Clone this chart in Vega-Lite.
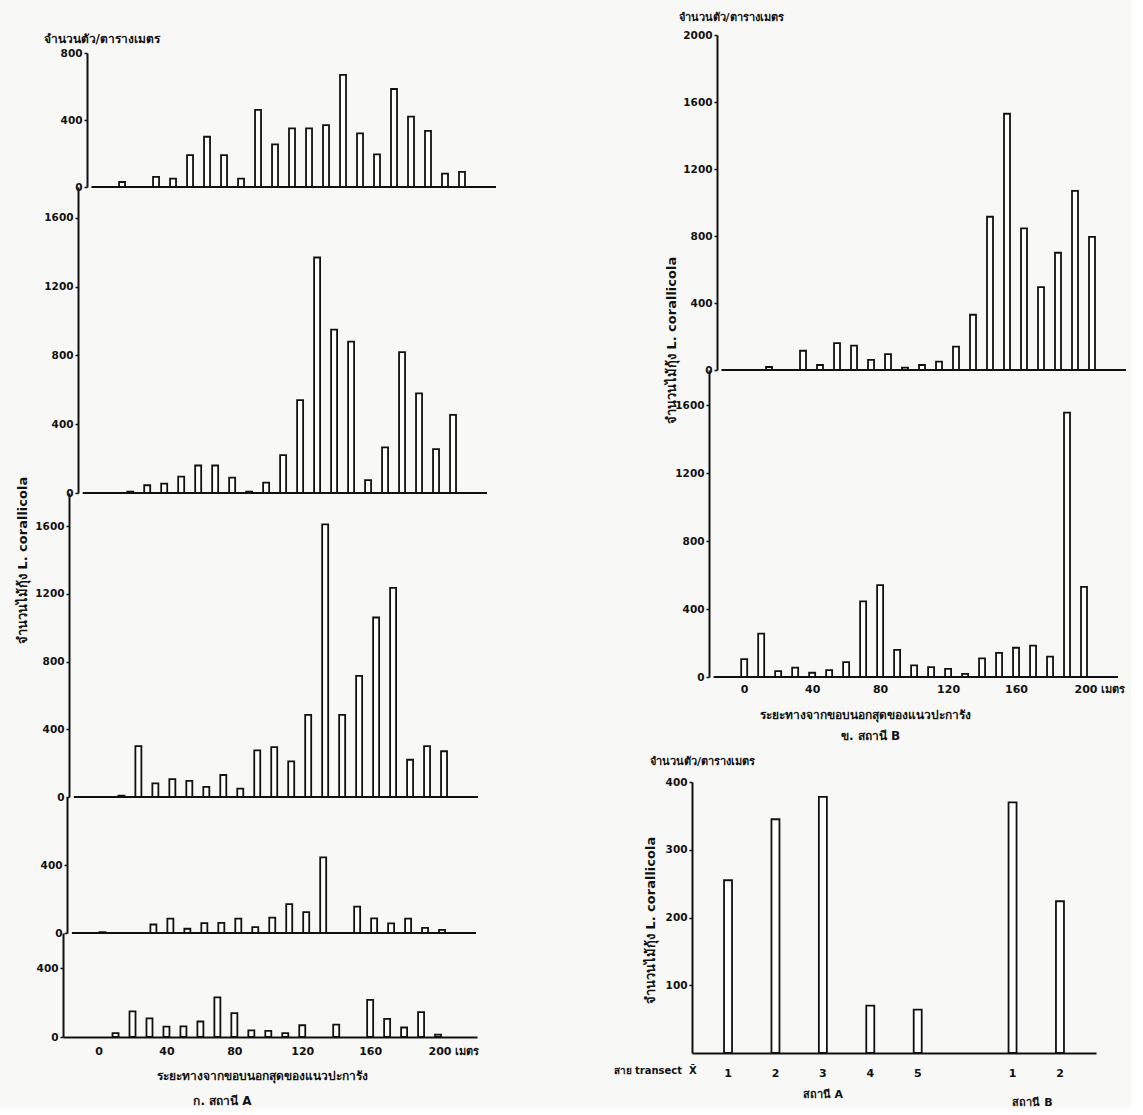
{
  "$schema": "https://vega.github.io/schema/vega-lite/v6.json",
  "background": "#f8f8f6",
  "padding": 0,
  "spacing": 99,
  "datasets": {
    "A1": [{"d":0,"n":30},{"d":20,"n":60},{"d":30,"n":50},{"d":40,"n":190},{"d":50,"n":300},{"d":60,"n":190},{"d":70,"n":50},{"d":80,"n":460},{"d":90,"n":255},{"d":100,"n":350},{"d":110,"n":350},{"d":120,"n":370},{"d":130,"n":670},{"d":140,"n":320},{"d":150,"n":195},{"d":160,"n":585},{"d":170,"n":420},{"d":180,"n":335},{"d":190,"n":80},{"d":200,"n":90}],
    "A2": [{"d":10,"n":8},{"d":20,"n":45},{"d":30,"n":55},{"d":40,"n":95},{"d":50,"n":160},{"d":60,"n":160},{"d":70,"n":90},{"d":80,"n":8},{"d":90,"n":60},{"d":100,"n":220},{"d":110,"n":540},{"d":120,"n":1370},{"d":130,"n":950},{"d":140,"n":880},{"d":150,"n":75},{"d":160,"n":265},{"d":170,"n":820},{"d":180,"n":580},{"d":190,"n":255},{"d":200,"n":455}],
    "A3": [{"d":10,"n":8},{"d":20,"n":300},{"d":30,"n":80},{"d":40,"n":105},{"d":50,"n":95},{"d":60,"n":60},{"d":70,"n":130},{"d":80,"n":50},{"d":90,"n":275},{"d":100,"n":295},{"d":110,"n":210},{"d":120,"n":485},{"d":130,"n":1610},{"d":140,"n":485},{"d":150,"n":715},{"d":160,"n":1060},{"d":170,"n":1235},{"d":180,"n":220},{"d":190,"n":300},{"d":200,"n":270}],
    "A4": [{"d":0,"n":5},{"d":30,"n":50},{"d":40,"n":85},{"d":50,"n":25},{"d":60,"n":58},{"d":70,"n":60},{"d":80,"n":85},{"d":90,"n":35},{"d":100,"n":90},{"d":110,"n":170},{"d":120,"n":123},{"d":130,"n":445},{"d":150,"n":155},{"d":160,"n":86},{"d":170,"n":57},{"d":180,"n":84},{"d":190,"n":30},{"d":200,"n":18}],
    "A5": [{"d":10,"n":22},{"d":20,"n":148},{"d":30,"n":108},{"d":40,"n":60},{"d":50,"n":62},{"d":60,"n":90},{"d":70,"n":230},{"d":80,"n":138},{"d":90,"n":38},{"d":100,"n":36},{"d":110,"n":22},{"d":120,"n":68},{"d":140,"n":72},{"d":160,"n":215},{"d":170,"n":105},{"d":180,"n":55},{"d":190,"n":144},{"d":200,"n":14}],
    "B1": [{"d":10,"n":18},{"d":30,"n":115},{"d":40,"n":30},{"d":50,"n":160},{"d":60,"n":145},{"d":70,"n":60},{"d":80,"n":95},{"d":90,"n":14},{"d":100,"n":30},{"d":110,"n":50},{"d":120,"n":140},{"d":130,"n":330},{"d":140,"n":915},{"d":150,"n":1530},{"d":160,"n":845},{"d":170,"n":495},{"d":180,"n":700},{"d":190,"n":1070},{"d":200,"n":795}],
    "B2": [{"d":0,"n":105},{"d":10,"n":255},{"d":20,"n":35},{"d":30,"n":55},{"d":40,"n":25},{"d":50,"n":40},{"d":60,"n":88},{"d":70,"n":445},{"d":80,"n":540},{"d":90,"n":160},{"d":100,"n":68},{"d":110,"n":58},{"d":120,"n":48},{"d":130,"n":18},{"d":140,"n":110},{"d":150,"n":142},{"d":160,"n":172},{"d":170,"n":185},{"d":180,"n":120},{"d":190,"n":1555},{"d":200,"n":530}],
    "MEAN": [{"t":"A1","v":255},{"t":"A2","v":345},{"t":"A3","v":378},{"t":"A4","v":70},{"t":"A5","v":64},{"t":"B1","v":370},{"t":"B2","v":224}],
    "GA": [{"t":"A3","g":"สถานี A"}],
    "GB": [{"t":"B1","g":"สถานี B"}],
    "ONE": [{"k": 1}]
  },
  "hconcat": [
    {
      "bounds": "flush",
      "columns": 2,
      "spacing": 0,
      "concat": [
        {"width": 63, "height": 1, "data": {"values": []}, "mark": {"type": "point", "opacity": 0}},
        {"width": 414, "height": 53, "data": {"values": []}, "mark": {"type": "point", "opacity": 0}},

        {"width": 63, "height": 1, "data": {"values": []}, "mark": {"type": "point", "opacity": 0}},
        {"width": 438, "height": 134,
         "layer": [
           {"data": {"name": "A1"},
            "mark": {"type": "bar", "fill": "white", "stroke": "#111", "strokeWidth": 1.8, "width": 6},
            "encoding": {
              "x": {"field": "d", "type": "quantitative", "scale": {"domain": [-31.8, 220], "nice": false, "zero": false}, "axis": {"labels": false, "ticks": false, "domain": false, "title": null}},
              "y": {"field": "n", "type": "quantitative", "scale": {"domain": [0, 800], "nice": false}, "axis": {"offset": -24, "values": [0, 400, 800], "format": "d", "title": "จำนวนตัว/ตารางเมตร", "titleFontSize": 12, "titleAngle": 0, "titleAlign": "left", "titleBaseline": "middle", "titleX": -44, "titleY": -15}}
            }},
           {"data": {"name": "ONE"}, "mark": {"type": "rule", "stroke": "#111", "strokeWidth": 2},
            "encoding": {"x": {"datum": -18, "type": "quantitative"}, "x2": {"datum": 220}, "y": {"datum": 0, "type": "quantitative"}}}
         ]},

        {"width": 63, "height": 1, "data": {"values": []}, "mark": {"type": "point", "opacity": 0}},
        {"width": 429, "height": 306,
         "layer": [
           {"data": {"name": "A2"},
            "mark": {"type": "bar", "fill": "white", "stroke": "#111", "strokeWidth": 1.8, "width": 6},
            "encoding": {
              "x": {"field": "d", "type": "quantitative", "scale": {"domain": [-26.62, 220], "nice": false, "zero": false}, "axis": {"labels": false, "ticks": false, "domain": false, "title": null}},
              "y": {"field": "n", "type": "quantitative", "scale": {"domain": [0, 1780], "nice": false}, "axis": {"offset": -15, "values": [0, 400, 800, 1200, 1600], "format": "d", "title": null}}
            }},
           {"data": {"name": "ONE"}, "mark": {"type": "rule", "stroke": "#111", "strokeWidth": 2},
            "encoding": {"x": {"datum": -18, "type": "quantitative"}, "x2": {"datum": 220}, "y": {"datum": 0, "type": "quantitative"}}}
         ]},

        {"width": 63, "height": 1, "data": {"values": []}, "mark": {"type": "point", "opacity": 0}},
        {"width": 420, "height": 304,
         "layer": [
           {"data": {"name": "A3"},
            "mark": {"type": "bar", "fill": "white", "stroke": "#111", "strokeWidth": 1.8, "width": 6},
            "encoding": {
              "x": {"field": "d", "type": "quantitative", "scale": {"domain": [-21.45, 220], "nice": false, "zero": false}, "axis": {"labels": false, "ticks": false, "domain": false, "title": null}},
              "y": {"field": "n", "type": "quantitative", "scale": {"domain": [0, 1795], "nice": false}, "axis": {"offset": -6, "values": [0, 400, 800, 1200, 1600], "format": "d", "title": "จำนวนไม้กุ้ง L. corallicola", "titleAngle": 270, "titleAlign": "center", "titleBaseline": "middle", "titleX": -47, "titleY": 67, "titleFontSize": 13}}
            }},
           {"data": {"name": "ONE"}, "mark": {"type": "rule", "stroke": "#111", "strokeWidth": 2},
            "encoding": {"x": {"datum": -18, "type": "quantitative"}, "x2": {"datum": 220}, "y": {"datum": 0, "type": "quantitative"}}}
         ]},

        {"width": 63, "height": 1, "data": {"values": []}, "mark": {"type": "point", "opacity": 0}},
        {"width": 418, "height": 136,
         "layer": [
           {"data": {"name": "A4"},
            "mark": {"type": "bar", "fill": "white", "stroke": "#111", "strokeWidth": 1.8, "width": 6},
            "encoding": {
              "x": {"field": "d", "type": "quantitative", "scale": {"domain": [-20.3, 220], "nice": false, "zero": false}, "axis": {"labels": false, "ticks": false, "domain": false, "title": "ก. สถานี A", "titleX": 159, "titleY": 167, "titleAlign": "center", "titleBaseline": "middle", "titleFontSize": 12}},
              "y": {"field": "n", "type": "quantitative", "scale": {"domain": [0, 800], "nice": false}, "axis": {"offset": -4, "values": [0, 400], "format": "d", "title": null}}
            }},
           {"data": {"name": "ONE"}, "mark": {"type": "rule", "stroke": "#111", "strokeWidth": 2},
            "encoding": {"x": {"datum": -18, "type": "quantitative"}, "x2": {"datum": 220}, "y": {"datum": 0, "type": "quantitative"}}}
         ]},

        {"width": 63, "height": 1, "data": {"values": []}, "mark": {"type": "point", "opacity": 0}},
        {"width": 414, "height": 104, "data": {"name": "A5"},
         "mark": {"type": "bar", "fill": "white", "stroke": "#111", "strokeWidth": 1.8, "width": 6},
         "encoding": {
           "x": {"field": "d", "type": "quantitative", "scale": {"domain": [-18, 220], "nice": false, "zero": false},
                 "axis": {"values": [0, 40, 80, 120, 160, 200], "ticks": false, "labelPadding": 8, "labelFontSize": 11,
                          "labelExpr": "datum.value == 200 ? '200 เมตร' : datum.label",
                          "labelAlign": {"condition": {"test": "datum.value == 200", "value": "left"}, "value": "center"},
                          "labelOffset": {"condition": {"test": "datum.value == 200", "value": -10}, "value": 0},
                          "title": "ระยะทางจากขอบนอกสุดของแนวปะการัง", "titleFontSize": 12, "titleX": 199, "titleY": 38, "titleAlign": "center", "titleBaseline": "middle"}},
           "y": {"field": "n", "type": "quantitative", "scale": {"domain": [0, 603], "nice": false}, "axis": {"values": [0, 400], "format": "d", "title": null}}
         }}
      ]
    },
    {
      "bounds": "flush",
      "columns": 2,
      "spacing": 0,
      "concat": [
        {"width": 92, "height": 1, "data": {"values": []}, "mark": {"type": "point", "opacity": 0}},
        {"width": 404, "height": 35, "data": {"values": []}, "mark": {"type": "point", "opacity": 0}},

        {"width": 92, "height": 1, "data": {"values": []}, "mark": {"type": "point", "opacity": 0}},
        {"width": 439, "height": 335,
         "layer": [
           {"data": {"name": "B1"},
            "mark": {"type": "bar", "fill": "white", "stroke": "#111", "strokeWidth": 1.8, "width": 6},
            "encoding": {
              "x": {"field": "d", "type": "quantitative", "scale": {"domain": [-32.37, 220], "nice": false, "zero": false}, "axis": {"labels": false, "ticks": false, "domain": false, "title": "ข. สถานี B", "titleX": 178, "titleY": 365, "titleAlign": "center", "titleBaseline": "middle", "titleFontSize": 12}},
              "y": {"field": "n", "type": "quantitative", "scale": {"domain": [0, 2000], "nice": false}, "axis": {"offset": -25, "values": [0, 400, 800, 1200, 1600, 2000], "format": "d", "title": "จำนวนตัว/ตารางเมตร", "titleFontSize": 11, "titleAngle": 0, "titleAlign": "left", "titleBaseline": "middle", "titleX": -39, "titleY": -18}}
            }},
           {"data": {"name": "ONE"}, "mark": {"type": "rule", "stroke": "#111", "strokeWidth": 2},
            "encoding": {"x": {"datum": -18, "type": "quantitative"}, "x2": {"datum": 220}, "y": {"datum": 0, "type": "quantitative"}}}
         ]},

        {"width": 92, "height": 1, "data": {"values": []}, "mark": {"type": "point", "opacity": 0}},
        {"width": 431, "height": 307,
         "layer": [
           {"data": {"name": "B2"},
            "mark": {"type": "bar", "fill": "white", "stroke": "#111", "strokeWidth": 1.8, "width": 6},
            "encoding": {
              "x": {"field": "d", "type": "quantitative", "scale": {"domain": [-27.77, 220], "nice": false, "zero": false},
                    "axis": {"values": [0, 40, 80, 120, 160, 200], "ticks": false, "domain": false, "labelPadding": 6, "labelFontSize": 11,
                             "labelExpr": "datum.value == 200 ? '200 เมตร' : datum.label",
                             "labelAlign": {"condition": {"test": "datum.value == 200", "value": "left"}, "value": "center"},
                             "labelOffset": {"condition": {"test": "datum.value == 200", "value": -10}, "value": 0},
                             "title": "ระยะทางจากขอบนอกสุดของแนวปะการัง", "titleFontSize": 12, "titleX": 173, "titleY": 37, "titleAlign": "center", "titleBaseline": "middle"}},
              "y": {"field": "n", "type": "quantitative", "scale": {"domain": [0, 1806], "nice": false}, "axis": {"offset": -17, "values": [0, 400, 800, 1200, 1600], "format": "d", "title": "จำนวนไม้กุ้ง L. corallicola", "titleAngle": 270, "titleAlign": "center", "titleBaseline": "middle", "titleX": -38, "titleY": -30, "titleFontSize": 13}}
            }},
           {"data": {"name": "ONE"}, "mark": {"type": "rule", "stroke": "#111", "strokeWidth": 2},
            "encoding": {"x": {"datum": -18, "type": "quantitative"}, "x2": {"datum": 220}, "y": {"datum": 0, "type": "quantitative"}}}
         ]},

        {"width": 92, "height": 1, "data": {"values": []}, "mark": {"type": "point", "opacity": 0}},
        {"width": 404, "height": 105, "data": {"values": []}, "mark": {"type": "point", "opacity": 0}},

        {"width": 92, "height": 1, "data": {"values": []}, "mark": {"type": "point", "opacity": 0}},
        {"width": 404, "height": 271,
         "title": {"text": "จำนวนตัว/ตารางเมตร", "anchor": "start", "frame": "group", "dx": -42, "offset": 10, "fontSize": 11, "fontWeight": "bold", "color": "#111"},
         "encoding": {
           "x": {"field": "t", "type": "nominal", "scale": {"domain": ["A1", "A2", "A3", "A4", "A5", "gap", "B1", "B2"], "paddingInner": 0, "paddingOuter": 0.26},
                 "axis": {"labelExpr": "datum.value == 'gap' ? '' : substring(datum.value, 1)", "labelAngle": 0, "ticks": false, "labelPadding": 14, "labelFontSize": 11,
                          "title": "สาย transect\u00a0\u00a0X̄", "titleX": -79, "titleY": 17, "titleAlign": "left", "titleBaseline": "middle"}}
         },
         "layer": [
           {"data": {"name": "MEAN"},
            "mark": {"type": "bar", "fill": "white", "stroke": "#111", "strokeWidth": 1.8, "width": 8},
            "encoding": {
              "y": {"field": "v", "type": "quantitative", "scale": {"domain": [0, 400], "nice": false},
                    "axis": {"values": [100, 200, 300, 400], "format": "d", "title": "จำนวนไม้กุ้ง L. corallicola", "titleAngle": 270, "titleAlign": "center", "titleBaseline": "middle", "titleX": -42, "titleY": 138, "titleFontSize": 13}}
            }},
           {"data": {"name": "GA"},
            "mark": {"type": "text", "dy": 42, "fontWeight": "bold", "fontSize": 11, "color": "#111"},
            "encoding": {"y": {"datum": 0, "type": "quantitative"}, "text": {"field": "g"}}},
           {"data": {"name": "GB"},
            "mark": {"type": "text", "dy": 50, "dx": 20, "fontWeight": "bold", "fontSize": 11, "color": "#111"},
            "encoding": {"y": {"datum": 0, "type": "quantitative"}, "text": {"field": "g"}}}
         ]}
      ]
    }
  ],
  "config": {
    "font": "DejaVu Sans",
    "view": {"stroke": null},
    "axis": {"grid": false, "domainColor": "#111", "domainWidth": 2, "tickColor": "#111", "tickWidth": 1.5, "tickSize": 3,
             "labelFontWeight": "bold", "labelFontSize": 10.5, "labelColor": "#111", "labelPadding": 2, "labelFlush": false, "labelOverlap": false,
             "titleFontWeight": "bold", "titleFontSize": 10, "titleColor": "#111"}
  }
}
